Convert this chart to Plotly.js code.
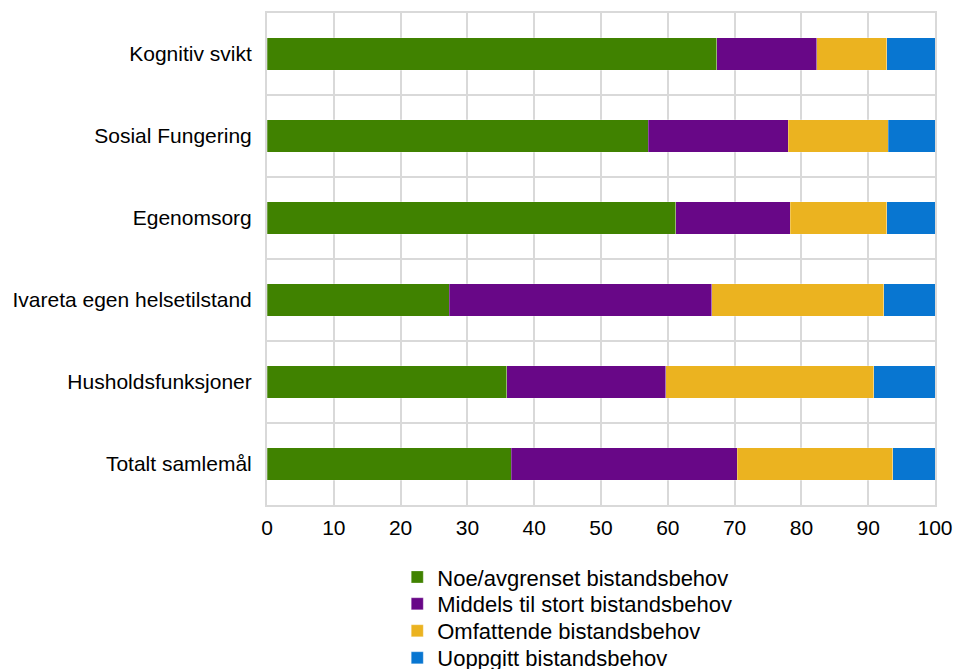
<!DOCTYPE html>
<html>
<head>
<meta charset="utf-8">
<script src="https://cdn.plot.ly/plotly-3.0.1.min.js"></script>
<style>html,body{margin:0;padding:0;background:#fff;}#chart{width:954px;height:669px;}</style>
</head>
<body>
<div id="chart"></div>
<script>
const categories = ["Kognitiv svikt", "Sosial Fungering", "Egenomsorg", "Ivareta egen helsetilstand", "Husholdsfunksjoner", "Totalt samlemål"];
const seriesNames = ["Noe/avgrenset bistandsbehov", "Middels til stort bistandsbehov", "Omfattende bistandsbehov", "Uoppgitt bistandsbehov"];
const noeAvgrenset = [67.3, 57.1, 61.2, 27.3, 35.9, 36.6];
const middelsStort = [15.0, 20.9, 17.1, 39.3, 23.8, 33.8];
const omfattende = [10.5, 15.0, 14.5, 25.7, 31.1, 23.3];
const uoppgitt = [7.2, 7.0, 7.2, 7.7, 9.2, 6.3];
const xTicks = [0, 10, 20, 30, 40, 50, 60, 70, 80, 90, 100];

const colors = ["#408200", "#680787", "#ebb320", "#0876d1"];
const values = [noeAvgrenset, middelsStort, omfattende, uoppgitt];
const legendIds = ["legend", "legend2", "legend3", "legend4"];
const legendY = [-0.104, -0.1585, -0.2134, -0.2683];

const traces = values.map((v, i) => ({
  type: "bar",
  orientation: "h",
  name: seriesNames[i],
  y: categories,
  x: v,
  legend: legendIds[i],
  marker: {color: colors[i], line: {color: "rgba(255,255,255,0.5)", width: 0.5}},
  hoverinfo: "x+name"
}));

const layout = {
  width: 954, height: 669,
  margin: {l: 267, r: 19, t: 13, b: 164, autoexpand: false},
  barmode: "stack",
  bargap: 0.6,
  paper_bgcolor: "#fff",
  plot_bgcolor: "#fff",
  font: {family: "Liberation Sans, Arial, sans-serif", size: 21, color: "#000"},
  xaxis: {
    range: [0, 100],
    tickvals: xTicks,
    ticktext: xTicks.map(String),
    showgrid: true, gridcolor: "#d9d9d9", gridwidth: 2,
    showline: true, linecolor: "#d9d9d9", linewidth: 2, mirror: true,
    zeroline: false, ticks: "", ticklen: 0,
    tickfont: {size: 21},
    ticklabelstandoff: 3
  },
  yaxis: {
    type: "category",
    autorange: "reversed",
    tickson: "boundaries",
    showgrid: true, gridcolor: "#d9d9d9", gridwidth: 2,
    showline: true, linecolor: "#d9d9d9", linewidth: 2, mirror: true,
    ticks: "", ticklen: 0,
    tickfont: {size: 21},
    ticklabelstandoff: 9
  },
  showlegend: true
};

legendIds.forEach((id, i) => {
  layout[id] = {
    orientation: "v",
    x: 0.195, xanchor: "left",
    y: legendY[i], yanchor: "top",
    bgcolor: "rgba(0,0,0,0)",
    font: {size: 22, color: "#000"},
    itemwidth: 30
  };
});

Plotly.newPlot("chart", traces, layout, {displayModeBar: false, staticPlot: true});
</script>
</body>
</html>
